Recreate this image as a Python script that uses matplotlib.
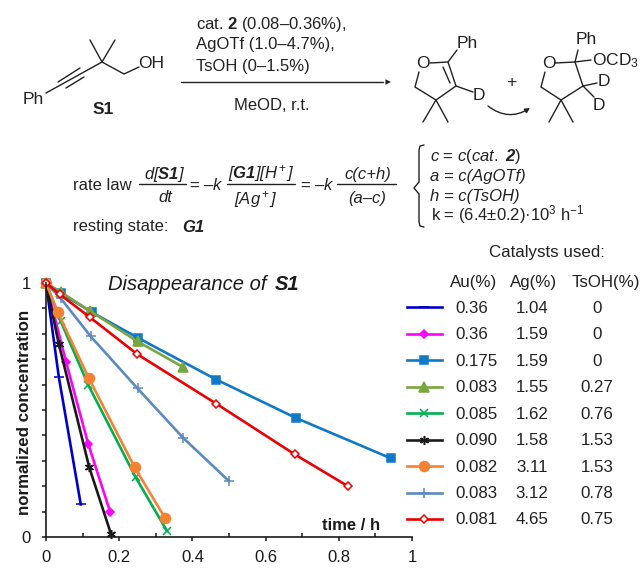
import matplotlib
matplotlib.use('Agg')
import matplotlib.pyplot as plt
from matplotlib.patches import FancyArrowPatch

plt.rcParams['font.family'] = ['Liberation Sans', 'DejaVu Sans']
plt.rcParams['mathtext.fontset'] = 'custom'
plt.rcParams['mathtext.rm'] = 'Liberation Sans'
plt.rcParams['mathtext.it'] = 'Liberation Sans:italic'
plt.rcParams['mathtext.bf'] = 'Liberation Sans:bold'
plt.rcParams['mathtext.bfit'] = 'Liberation Sans:italic:bold'

# curves: time (h), normalized concentration
t_blue = [0, 0.035, 0.095]
c_blue = [1, 0.63, 0.128]
t_magenta = [0, 0.055, 0.115, 0.175]
c_magenta = [1, 0.688, 0.368, 0.10]
t_mid = [0, 0.04, 0.125, 0.25, 0.465, 0.684, 0.942]
c_mid = [1, 0.96, 0.885, 0.785, 0.62, 0.468, 0.31]
t_olive = [0, 0.04, 0.12, 0.25, 0.373]
c_olive = [1, 0.965, 0.89, 0.77, 0.67]
t_green = [0, 0.04, 0.115, 0.245, 0.33]
c_green = [1, 0.85, 0.6, 0.235, 0.025]
t_black = [0, 0.035, 0.118, 0.178]
c_black = [1, 0.76, 0.275, 0.01]
t_orange = [0, 0.032, 0.117, 0.242, 0.325]
c_orange = [1, 0.885, 0.625, 0.275, 0.075]
t_steel = [0, 0.04, 0.122, 0.25, 0.375, 0.5]
c_steel = [1, 0.94, 0.79, 0.585, 0.39, 0.22]
t_red = [0, 0.038, 0.12, 0.249, 0.465, 0.68, 0.825]
c_red = [1, 0.955, 0.865, 0.72, 0.525, 0.325, 0.2]

au = ['0.36', '0.36', '0.175', '0.083', '0.085', '0.090', '0.082', '0.083', '0.081']
ag = ['1.04', '1.59', '1.59', '1.55', '1.62', '1.58', '3.11', '3.12', '4.65']
tsoh = ['0', '0', '0', '0.27', '0.76', '1.53', '1.53', '0.78', '0.75']

W, H = 644, 574
fig = plt.figure(figsize=(W / 100, H / 100), dpi=100)

# overlay in pixel coordinates for the schemes and the table
bg = fig.add_axes([0, 0, 1, 1])
bg.set_xlim(0, W)
bg.set_ylim(H, 0)
bg.axis('off')

ax = fig.add_axes([46 / W, 1 - 537 / H, 366 / W, 254 / H])
ax.patch.set_alpha(0)

asterisk = (6, 2, 0)
series = [
    (t_blue, c_blue, '#0000c8', '_', 7, None),
    (t_magenta, c_magenta, '#ff00ff', 'D', 4.2, None),
    (t_mid, c_mid, '#0f78c8', 's', 5.8, None),
    (t_olive, c_olive, '#77a640', '^', 7, None),
    (t_green, c_green, '#00b050', 'x', 5.5, None),
    (t_black, c_black, '#1a1a1a', asterisk, 6.5, None),
    (t_orange, c_orange, '#f58233', 'o', 7.2, None),
    (t_steel, c_steel, '#5b8ac0', '+', 6.5, None),
    (t_red, c_red, '#ee0000', 'D', 4, 'white'),
]
for t, c, col, mk, ms, mfc in series:
    ax.plot(t, c, color=col, lw=1.9, marker=mk, ms=ms, mew=1.1,
            mfc=mfc or col, mec=col, clip_on=False)

ax.set_xlim(0, 1)
ax.set_ylim(0, 1)
for s in ['top', 'right']:
    ax.spines[s].set_visible(False)
for s in ['left', 'bottom']:
    ax.spines[s].set_linewidth(1.2)
    ax.spines[s].set_color('#1a1a1a')
ax.set_xticks([0, 0.2, 0.4, 0.6, 0.8, 1])
ax.set_xticklabels(['0', '0.2', '0.4', '0.6', '0.8', '1'])
ax.set_xticks([0.1, 0.3, 0.5, 0.7, 0.9], minor=True)
ax.set_yticks([0, 1])
ax.set_yticklabels(['0', '1'])
ax.set_yticks([i / 10 for i in range(1, 10)], minor=True)
ax.tick_params(axis='both', which='both', length=3, width=1.1, color='#1a1a1a',
               labelsize=12, labelcolor='#1a1a1a')
ax.tick_params(axis='x', which='minor', direction='in')
ax.tick_params(axis='x', which='major', direction='out', pad=6)
ax.tick_params(axis='y', which='major', pad=8)
ax.set_ylabel('normalized concentration', fontsize=12.2, fontweight='bold', color='#1a1a1a')
ax.yaxis.set_label_coords(-0.0383, 0.49)
bg.text(322, 530, 'time / h', fontsize=12, fontweight='bold', va='baseline', color='#1a1a1a')
bg.text(108, 290, 'Disappearance of ', fontsize=14.5, style='italic', va='baseline', color='#1a1a1a')
bg.text(275, 290, 'S1', fontsize=14.5, style='italic', fontweight='bold', va='baseline', color='#1a1a1a')

# table and legend keys
tc = '#222222'
fs_tab = 12.2
bg.text(489, 253, 'Catalysts used:', fontsize=fs_tab, va='center', color=tc)
for x, s in [(474, 'Au(%)'), (534, 'Ag(%)'), (606, 'TsOH(%)')]:
    bg.text(x, 282, s, fontsize=fs_tab, ha='center', va='center', color=tc)
for i, (row, (t, c, col, mk, ms, mfc)) in enumerate(zip(zip(au, ag, tsoh), series)):
    y = 307.4 + i * 26.45
    bg.plot([407, 442], [y, y], color=col, lw=1.9)
    bg.plot([424.5], [y], color=col, marker=mk, ms=ms, mew=1.1, mfc=mfc or col, mec=col)
    bg.text(455, y + 1, row[0], fontsize=fs_tab, va='center', color=tc)
    bg.text(532, y + 1, row[1], fontsize=fs_tab, ha='center', va='center', color=tc)
    bg.text(597, y + 1, row[2], fontsize=fs_tab, ha='center', va='center', color=tc)


def bonds(*paths, lw=1.0):
    for p in paths:
        bg.plot([q[0] for q in p], [q[1] for q in p], color='#222222', lw=lw,
                solid_capstyle='round', solid_joinstyle='round')


def label(x, y, s, size=12, **kw):
    kw.setdefault('ha', 'center')
    bg.text(x, y, s, fontsize=size, va='center', color='#222222', **kw)


# S1
bonds([(90, 40), (102, 62), (115, 40)], [(102, 62), (124, 74), (139, 67)],
      [(102, 62), (46, 93)], [(58, 82), (80, 68)], [(66, 88), (84, 77)])
label(151, 63, 'OH', 12.5)
label(33, 99, 'Ph', 12.5)
label(103, 109, 'S1', 12.5, fontweight='bold')

# reaction arrow and conditions
bonds([(181, 82), (383, 82)])
bg.add_patch(FancyArrowPatch((375, 82), (391, 82), arrowstyle='-|>', mutation_scale=10,
                             color='#222222', lw=0, shrinkA=0, shrinkB=0))
label(196, 25, 'cat. $\\mathbf{2}$ (0.08–0.36%),', ha='left')
label(196, 45, 'AgOTf (1.0–4.7%),', ha='left')
label(196, 66, 'TsOH (0–1.5%)', ha='left')
label(272, 105, 'MeOD, r.t.')

# enol ether product
bonds([(419, 72), (415, 87), (436, 100), (456, 86), (448, 62), (430, 63)],
      [(436, 100), (423, 122)], [(436, 100), (448, 122)], [(456, 86), (473, 92)],
      [(448, 62), (457, 50)], [(443, 67), (450, 83)])
label(423, 64, 'O', 12.5)
label(467, 44, 'Ph', 12.5)
label(479, 95, 'D', 12.5)
label(511, 82, '+', 12.5)
bg.add_patch(FancyArrowPatch((488, 106), (530, 108), connectionstyle='arc3,rad=0.35',
                             arrowstyle='-|>', mutation_scale=7, color='#222222', lw=1,
                             shrinkA=0, shrinkB=0))

# acetal product
bonds([(545, 72), (541, 87), (561, 100), (583, 86), (575, 62), (555, 63)],
      [(561, 100), (549, 122)], [(561, 100), (573, 122)], [(583, 86), (597, 83)],
      [(583, 86), (594, 97)], [(575, 62), (591, 60)], [(575, 62), (578, 50)])
label(549, 64, 'O', 12.5)
label(586, 40, 'Ph', 12.5)
label(592, 61, 'OCD$_3$', 12.5, ha='left')
label(604, 81, 'D', 12.5)
label(599, 105, 'D', 12.5)

# rate law
label(73, 185, 'rate law', ha='left')
label(73, 227, 'resting state:', ha='left')
label(182, 227, 'G1', fontweight='bold', style='italic', ha='left')
label(165, 174, 'd[$\\mathbfit{S1}$]', style='italic')
label(165, 198, 'dt', style='italic')
bonds([(139, 184), (186, 184)])
label(206, 185, '= –$\\mathit{k}$')
label(261, 174, '[$\\mathbfit{G1}$][H$^+$]', style='italic')
label(256, 199, '[Ag$^+$]', style='italic')
bonds([(227, 184), (295, 184)])
label(317, 185, '= –$\\mathit{k}$')
label(368, 174, 'c(c+h)', style='italic')
label(367, 198, '(a–c)', style='italic')
bonds([(337, 184), (396, 184)])
bonds([(424, 145), (420, 146), (419, 150), (419, 182), (414, 188), (419, 194), (419, 222),
       (420, 226), (424, 227)])
label(430, 157, '$\\mathit{c}$ = $\\mathit{c(cat.}$ $\\mathbfit{2}$$\\mathit{)}$', ha='left')
label(430, 177, 'a = c(AgOTf)', style='italic', ha='left')
label(430, 196, 'h = c(TsOH)', style='italic', ha='left')
label(431, 215, 'k = (6.4±0.2)·10$^3$ h$^{-1}$', ha='left')

fig.savefig('out.png', dpi=100)
